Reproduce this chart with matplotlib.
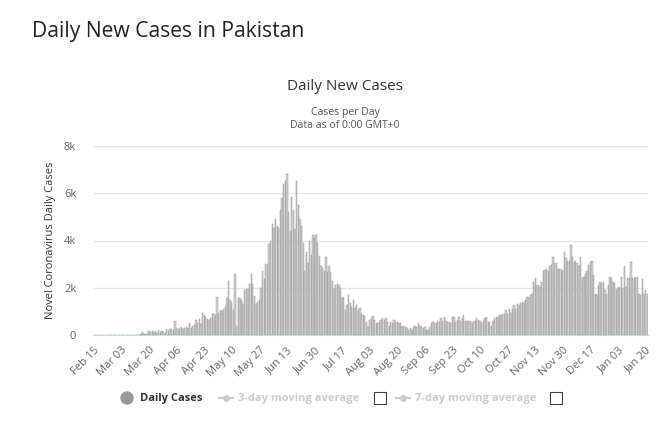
import numpy as np
import matplotlib.pyplot as plt
from matplotlib.lines import Line2D
from matplotlib.patches import Rectangle, Ellipse

plt.rcParams['font.family'] = ['Open Sans', 'DejaVu Sans']

# daily new cases in thousands, one value per day from Feb 15
feb_mar = [0, 0, 0, 0, 0, 0, 0, 0, 0, 0, 0, 0.002, 0, 0, 0,
           0, 0.001, 0.001, 0, 0, 0.001, 0.001, 0, 0.001, 0.003, 0.001, 0, 0, 0.008,
           0.025, 0.132, 0.053, 0.06, 0.087, 0.15,
           0.11, 0.15, 0.13, 0.18, 0.1, 0.22, 0.12, 0.16, 0.14, 0.09, 0.24, 0.17, 0.25]
apr = [0.25, 0.21, 0.6, 0.3, 0.25, 0.28, 0.33, 0.25, 0.3, 0.32, 0.28, 0.5, 0.3, 0.38,
       0.42, 0.65, 0.52, 0.68, 0.45, 0.95, 0.85, 0.78, 0.66, 0.64, 0.7, 0.9, 0.87, 0.8]
may_early = [1.6, 0.95, 1.05, 1.0, 1.1, 1.2, 1.55, 2.3, 1.5, 1.4, 1.05, 2.6, 0.4, 1.55, 1.55]
may_jul = [1.5, 1.3, 1.9, 1.95, 1.95, 2.15, 2.6, 2.15, 1.65, 1.3, 1.4, 1.5, 2.0, 2.7, 2.35,
           3.0, 3.0, 3.85, 4.0, 4.7, 4.55, 4.9, 4.6, 4.55, 5.3, 5.8, 6.4, 6.5, 6.8, 5.2,
           4.4, 5.85, 5.3, 4.5, 6.5, 5.5, 4.9, 4.6, 3.9, 2.7, 3.5, 3.05, 4.0, 3.4, 4.25,
           4.1, 4.25, 3.9, 3.35, 2.9, 2.85, 2.7, 3.3, 2.65, 2.9, 2.65, 2.3, 1.95, 2.1, 2.15]
jul_sep = [2.1, 2.0, 1.55, 1.6, 1.05, 1.25, 1.7, 1.35, 1.2, 1.5, 1.15, 1.25, 1.05, 1.15,
           0.9, 0.85, 0.8, 0.55, 0.35, 0.65, 0.7, 0.8, 0.65, 0.5, 0.5, 0.55, 0.65, 0.7,
           0.65, 0.7, 0.55, 0.4, 0.55, 0.5, 0.65, 0.55, 0.55, 0.5, 0.5, 0.35, 0.4, 0.35,
           0.3, 0.2, 0.3, 0.2, 0.35, 0.4, 0.35, 0.5, 0.4, 0.35, 0.3, 0.35, 0.2]
sep_nov = [0.2, 0.35, 0.5, 0.55, 0.5, 0.5, 0.6, 0.55, 0.7, 0.6, 0.75, 0.6, 0.55, 0.55,
           0.5, 0.75, 0.75, 0.55, 0.65, 0.75, 0.6, 0.7, 0.85, 0.6, 0.6, 0.6, 0.6, 0.5,
           0.6, 0.6, 0.7, 0.65, 0.6, 0.5, 0.6, 0.7, 0.75, 0.55, 0.55, 0.4, 0.6, 0.7,
           0.75, 0.75, 0.85, 0.85, 0.9, 0.9, 1.05, 0.9, 1.1, 0.95, 1.1, 1.25, 1.1, 1.3]
nov_dec = [1.25, 1.35, 1.4, 1.35, 1.5, 1.6, 1.6, 1.7, 1.75, 2.25, 2.4, 2.1, 2.1, 2.05,
           2.25, 2.7, 2.75, 2.8, 2.7, 2.9, 2.95, 3.3, 3.05, 3.05, 2.8, 2.8, 2.8, 2.7,
           3.5, 3.25, 3.15, 3.15, 3.8, 3.3, 3.1, 3.15, 3.05, 2.9]
dec_jan = [3.3, 2.4, 2.45, 2.6, 2.7, 2.95, 3.1, 3.15, 2.55, 1.75, 1.7, 2.1, 2.25, 2.2,
           2.25, 1.9, 1.75, 2.1, 2.45, 2.4, 2.25, 2.2, 1.9, 2.0, 2.05, 2.45, 2.0, 2.9,
           2.05, 2.4, 2.4, 3.1, 2.4, 2.4, 2.45, 2.45, 1.75, 1.7, 2.35, 1.75, 1.9, 1.75]

cases = np.array(feb_mar + apr + may_early + may_jul + jul_sep + sep_nov + nov_dec + dec_jan) * 1000
days = np.arange(len(cases))

tick_labels = ["Feb 15", "Mar 03", "Mar 20", "Apr 06", "Apr 23", "May 10", "May 27",
               "Jun 13", "Jun 30", "Jul 17", "Aug 03", "Aug 20", "Sep 06", "Sep 23",
               "Oct 10", "Oct 27", "Nov 13", "Nov 30", "Dec 17", "Jan 03", "Jan 20"]
tick_days = np.arange(len(tick_labels)) * 17

W, H = 658, 426
fig = plt.figure(figsize=(W / 100, H / 100), dpi=100)
ax = fig.add_axes([93 / W, 1 - 335 / H, (648 - 93) / W, (335 - 146) / H])

ax.bar(days, cases, width=0.8, color="#d2d2d2", edgecolor="#8c8c8c", linewidth=0.3)
ax.set_xlim(-0.5, len(cases) - 0.5)
ax.set_ylim(0, 8000)
ax.set_yticks([0, 2000, 4000, 6000, 8000])
ax.set_yticklabels(["0", "2k", "4k", "6k", "8k"])
ax.set_xticks(tick_days)
ax.set_xticklabels(tick_labels, rotation=45, ha="right", rotation_mode="anchor")
ax.tick_params(axis="both", length=0, labelsize=8, colors="#666666")
ax.tick_params(axis="x", pad=7)
ax.tick_params(axis="y", pad=12)
ax.grid(axis="y", color="#e6e6e6", linewidth=0.9)
ax.set_axisbelow(True)
for s in ["top", "right", "left"]:
    ax.spines[s].set_visible(False)
ax.spines["bottom"].set_color("#ccd6eb")
ax.set_ylabel("Novel Coronavirus Daily Cases", fontsize=8, color="#333333", labelpad=6)

fig.text(32 / W, 1 - 32 / H, "Daily New Cases in Pakistan", fontsize=15.2, color="#222222",
         va="center", ha="left")
fig.text(345 / W, 1 - 86 / H, "Daily New Cases", fontsize=11, color="#333333", ha="center", va="center")
fig.text(345 / W, 1 - 112 / H, "Cases per Day", fontsize=7.5, color="#555555", ha="center", va="center")
fig.text(345 / W, 1 - 126 / H, "Data as of 0:00 GMT+0", fontsize=7.5, color="#555555", ha="center", va="center")

# legend
ly = 1 - 398 / H
fig.patches.append(Ellipse((127 / W, ly), 12 / W, 12 / H, transform=fig.transFigure,
                           color="#999999"))
fig.text(140 / W, ly, "Daily Cases", fontsize=8, fontweight="bold", color="#333333", va="center")
for x0, label, box in [(219, "3-day moving average", 380), (396, "7-day moving average", 556)]:
    fig.lines.append(Line2D([x0 / W, (x0 + 14) / W], [ly, ly], transform=fig.transFigure,
                            color="#cccccc", linewidth=1.5))
    fig.lines.append(Line2D([(x0 + 7) / W], [ly], transform=fig.transFigure, color="#cccccc",
                            marker="o", markersize=4))
    fig.text((x0 + 19) / W, ly, label, fontsize=8, fontweight="bold", color="#cccccc", va="center")
    fig.patches.append(Rectangle(((box - 6) / W, ly - 6 / H), 12 / W, 12 / H,
                                 transform=fig.transFigure, facecolor="white",
                                 edgecolor="#444444", linewidth=0.8))

fig.savefig("out.png", dpi=100)
